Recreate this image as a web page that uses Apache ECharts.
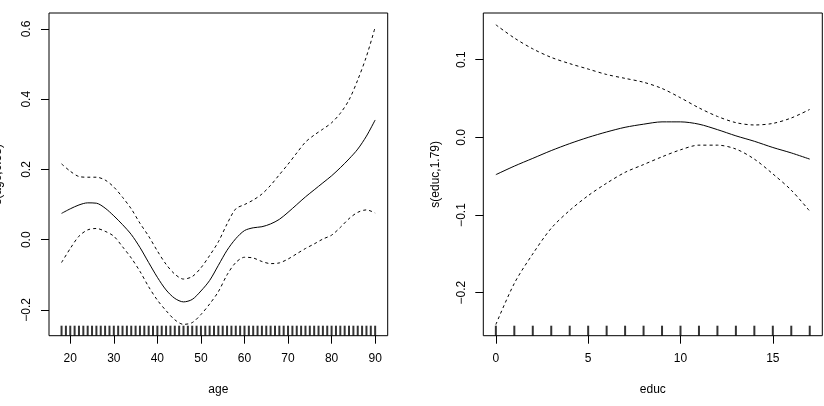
<!DOCTYPE html>
<html>
<head>
<meta charset="utf-8">
<script src="https://cdn.jsdelivr.net/npm/echarts@6.0.0/dist/echarts.min.js"></script>
<style>
html,body{margin:0;padding:0;background:#fff;}
#chart{width:824px;height:406px;}
</style>
</head>
<body>
<div id="chart"></div>
<script>
// ---- data: left panel (age) ----
const ageX     = [18,20,22,24,26,28,30,32,34,36,38,40,42,44,46,48,50,52,54,56,58,60,62,64,66,68,70,72,74,76,78,80,82,84,86,88,90];
const ageFit   = [0.075,0.088,0.099,0.105,0.104,0.090,0.068,0.043,0.015,-0.022,-0.065,-0.107,-0.143,-0.167,-0.177,-0.170,-0.146,-0.116,-0.073,-0.030,0.003,0.026,0.034,0.037,0.045,0.058,0.078,0.100,0.122,0.142,0.162,0.182,0.205,0.230,0.258,0.295,0.341];
const ageUpper = [0.216,0.195,0.180,0.178,0.178,0.170,0.150,0.121,0.088,0.047,0.010,-0.032,-0.070,-0.098,-0.112,-0.105,-0.080,-0.045,-0.006,0.045,0.088,0.100,0.113,0.130,0.155,0.185,0.215,0.247,0.278,0.298,0.315,0.333,0.360,0.398,0.455,0.522,0.605];
const ageLower = [-0.065,-0.025,0.010,0.028,0.032,0.024,0.010,-0.020,-0.052,-0.090,-0.134,-0.172,-0.202,-0.228,-0.241,-0.236,-0.213,-0.183,-0.148,-0.100,-0.065,-0.050,-0.052,-0.062,-0.068,-0.066,-0.055,-0.040,-0.025,-0.012,0.002,0.013,0.035,0.060,0.078,0.085,0.076];
const ageRug   = [18,19,20,21,22,23,24,25,26,27,28,29,30,31,32,33,34,35,36,37,38,39,40,41,42,43,44,45,46,47,48,49,50,51,52,53,54,55,56,57,58,59,60,61,62,63,64,65,66,67,68,69,70,71,72,73,74,75,76,77,78,79,80,81,82,83,84,85,86,87,88,89,90];
const ageXTicks = [20,30,40,50,60,70,80,90];
const ageYTicks = [-0.2,0.0,0.2,0.4,0.6];

// ---- data: right panel (educ) ----
const educX     = [0,1,2,3,4,5,6,7,8,9,10,11,12,13,14,15,16,17];
const educFit   = [-0.048,-0.037,-0.027,-0.017,-0.008,0.000,0.007,0.013,0.017,0.020,0.020,0.017,0.010,0.002,-0.005,-0.013,-0.020,-0.028];
const educUpper = [0.145,0.128,0.114,0.103,0.095,0.088,0.081,0.076,0.071,0.063,0.051,0.038,0.027,0.019,0.016,0.018,0.025,0.036];
const educLower = [-0.241,-0.188,-0.150,-0.117,-0.094,-0.075,-0.059,-0.045,-0.035,-0.025,-0.016,-0.010,-0.010,-0.015,-0.028,-0.047,-0.068,-0.095];
const educRug   = [0,1,2,3,4,5,6,7,8,9,10,11,12,13,14,15,16,17];
const educXTicks = [0,5,10,15];
const educYTicks = [-0.2,-0.1,0.0,0.1];

const ageYLabel  = 's(age,6.58)';
const educYLabel = 's(educ,1.79)';

// ---- layout ----
const FONT = 'Liberation Sans, Arial, sans-serif';
const ageRange  = {xmin:15.12, xmax:92.88, ymin:-0.2733, ymax:0.6456};
const educRange = {xmin:-0.68, xmax:17.68, ymin:-0.2554, ymax:0.1602};

function fmtY(v){ return (v < 0 ? '\u2212' : '') + Math.abs(v).toFixed(1); }
function pairs(xs, ys){ return xs.map((x,i)=>[x, ys[i]]); }

function xAxisFor(idx, r, ticks, name){
  return {
    type:'value', gridIndex:idx, min:r.xmin, max:r.xmax, position:'bottom',
    name:name, nameLocation:'middle', nameGap:48, nameMoveOverlap:false,
    nameTextStyle:{fontFamily:FONT, fontSize:12, color:'#000'},
    axisLine:{show:false, onZero:false}, splitLine:{show:false},
    axisTick:{show:true, inside:false, length:8, customValues:ticks, lineStyle:{color:'#000', width:1}},
    axisLabel:{show:true, margin:17, customValues:ticks, fontFamily:FONT, fontSize:12, color:'#000',
               formatter:v=>String(v)}
  };
}
function yAxisFor(idx, r, ticks, name, gap){
  return {
    type:'value', gridIndex:idx, min:r.ymin, max:r.ymax, position:'left',
    name:name, nameLocation:'middle', nameGap:gap, nameRotate:90, nameMoveOverlap:false,
    nameTextStyle:{fontFamily:FONT, fontSize:12, color:'#000'},
    axisLine:{show:false, onZero:false}, splitLine:{show:false},
    axisTick:{show:true, inside:false, length:8, customValues:ticks, lineStyle:{color:'#000', width:1}},
    axisLabel:{show:true, rotate:90, margin:16, customValues:ticks, fontFamily:FONT, fontSize:12, color:'#000',
               formatter:fmtY}
  };
}
function lineSeries(idx, data, dashed){
  return {
    type:'line', xAxisIndex:idx, yAxisIndex:idx, data:data,
    showSymbol:false, smooth:0.3, silent:true, animation:false,
    lineStyle:{color:'#000', width:1, type: dashed ? [3,3] : 'solid'}
  };
}
function rugSeries(idx, xs, ymin){
  return {
    type:'scatter', xAxisIndex:idx, yAxisIndex:idx,
    data: xs.map(x=>[x, ymin]),
    symbol:'rect', symbolSize:[2,10], symbolOffset:[0,-5],
    itemStyle:{color:'#000'}, silent:true, animation:false, clip:false
  };
}

const chart = echarts.init(document.getElementById('chart'), null, {renderer:'canvas'});
chart.setOption({
  animation:false,
  backgroundColor:'#fff',
  textStyle:{fontFamily:FONT},
  grid:[
    {left:49, top:13, width:338.7, height:322.7, show:true, borderColor:'#000', borderWidth:1, backgroundColor:'transparent', containLabel:false, outerBoundsMode:'none'},
    {left:483.3, top:13, width:339, height:322.7, show:true, borderColor:'#000', borderWidth:1, backgroundColor:'transparent', containLabel:false, outerBoundsMode:'none'}
  ],
  xAxis:[ xAxisFor(0, ageRange, ageXTicks, 'age'), xAxisFor(1, educRange, educXTicks, 'educ') ],
  yAxis:[ yAxisFor(0, ageRange, ageYTicks, ageYLabel, 45), yAxisFor(1, educRange, educYTicks, educYLabel, 42) ],
  series:[
    lineSeries(0, pairs(ageX, ageFit), false),
    lineSeries(0, pairs(ageX, ageUpper), true),
    lineSeries(0, pairs(ageX, ageLower), true),
    rugSeries(0, ageRug, ageRange.ymin),
    lineSeries(1, pairs(educX, educFit), false),
    lineSeries(1, pairs(educX, educUpper), true),
    lineSeries(1, pairs(educX, educLower), true),
    rugSeries(1, educRug, educRange.ymin)
  ]
});
</script>
</body>
</html>
